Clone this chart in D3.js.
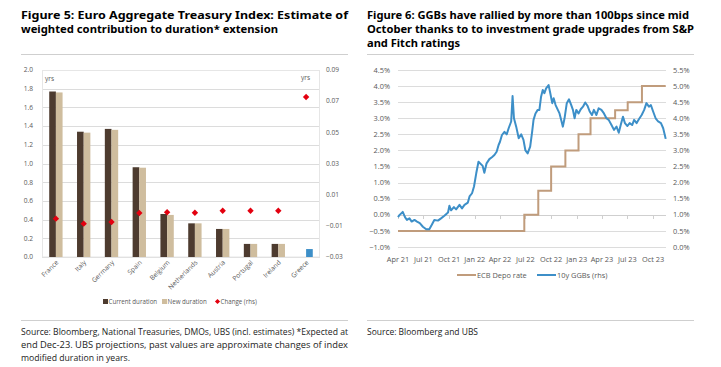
<!DOCTYPE html>
<html lang="en">
<meta charset="utf-8" />
<style>
    body { margin: 0; background: #fff; }
    svg text { font-family: "Open Sans", "Noto Sans", sans-serif; }
    .title { font-family: "Noto Sans", sans-serif; font-weight: bold; font-size: 11px; fill: #000; }
    .source { font-size: 8.6px; fill: #222; }
    .tick { font-size: 6.6px; fill: #595959; }
    .leg { font-size: 6.2px; fill: #595959; }
    .tick2 { font-size: 7.4px; fill: #595959; }
    .grid { stroke: #dcdcdc; stroke-width: 1; shape-rendering: crispEdges; }
    .rule { stroke: #cfcfcf; stroke-width: 1; shape-rendering: crispEdges; }
</style>
<svg width="721" height="367"></svg>
<script src="https://d3js.org/d3.v7.min.js"></script>
<script>
    // ---- Figure 5 data ----
    var countries = ["France", "Italy", "Germany", "Spain", "Belgium", "Netherlands", "Austria", "Portugal", "Ireland", "Greece"]
    var currentDuration = [1.77, 1.34, 1.37, 0.96, 0.46, 0.36, 0.30, 0.14, 0.14, 0]
    var newDuration = [1.76, 1.33, 1.36, 0.955, 0.45, 0.36, 0.30, 0.14, 0.14, 0.085]
    var changeRhs = [-0.0054, -0.0086, -0.0075, -0.0018, -0.0013, -0.0016, -0.0003, -0.0003, -0.0003, 0.0727]
    var durTicks = [0, 0.2, 0.4, 0.6, 0.8, 1.0, 1.2, 1.4, 1.6, 1.8, 2.0]
    var chgTicks = [-0.03, -0.01, 0.01, 0.03, 0.05, 0.07, 0.09]

    // ---- Figure 6 data ----
    var quarterTicks = ["2021-04-01", "2021-07-01", "2021-10-01", "2022-01-01", "2022-04-01", "2022-07-01",
        "2022-10-01", "2023-01-01", "2023-04-01", "2023-07-01", "2023-10-01"]
    var depoDates = ["2021-04-01", "2022-06-27", "2022-08-16", "2022-10-01", "2022-11-21", "2023-01-07",
        "2023-02-19", "2023-05-18", "2023-07-02", "2023-08-22", "2023-11-15"]
    var depoRate = [-0.5, 0.0, 0.75, 1.5, 2.0, 2.5, 3.0, 3.25, 3.5, 4.0, 4.0]
    var ggbDates = ["2021-04-01", "2021-04-06", "2021-04-18", "2021-04-26", "2021-05-03", "2021-05-12", "2021-05-20",
        "2021-05-30", "2021-06-08", "2021-06-18", "2021-06-29", "2021-07-11", "2021-07-22", "2021-07-31",
        "2021-08-09", "2021-08-22", "2021-09-02", "2021-09-14", "2021-09-27", "2021-10-02", "2021-10-08",
        "2021-10-18", "2021-10-26", "2021-11-07", "2021-11-16", "2021-11-25", "2021-12-07", "2021-12-13",
        "2021-12-22", "2021-12-29", "2022-01-06", "2022-01-14", "2022-01-29", "2022-02-04", "2022-02-12",
        "2022-02-22", "2022-03-03", "2022-03-12", "2022-03-20", "2022-03-27", "2022-04-01", "2022-04-08",
        "2022-04-17", "2022-04-25", "2022-05-02", "2022-05-11", "2022-05-16", "2022-05-21", "2022-05-29",
        "2022-06-07", "2022-06-16", "2022-06-24", "2022-07-01", "2022-07-09", "2022-07-18", "2022-07-25",
        "2022-07-30", "2022-08-06", "2022-08-14", "2022-08-20", "2022-08-26", "2022-09-01", "2022-09-07",
        "2022-09-13", "2022-09-22", "2022-09-28", "2022-10-05", "2022-10-10", "2022-10-17", "2022-10-25",
        "2022-10-31", "2022-11-06", "2022-11-12", "2022-11-18", "2022-11-26", "2022-12-04", "2022-12-12",
        "2022-12-18", "2022-12-24", "2022-12-30", "2023-01-07", "2023-01-15", "2023-01-23", "2023-01-31",
        "2023-02-08", "2023-02-16", "2023-02-24", "2023-03-03", "2023-03-12", "2023-03-20", "2023-03-30",
        "2023-04-08", "2023-04-17", "2023-04-25", "2023-05-05", "2023-05-14", "2023-05-23", "2023-05-31",
        "2023-06-07", "2023-06-15", "2023-06-22", "2023-07-01", "2023-07-09", "2023-07-18", "2023-07-25",
        "2023-08-03", "2023-08-11", "2023-08-21", "2023-08-30", "2023-09-07", "2023-09-16", "2023-09-23",
        "2023-10-01", "2023-10-10", "2023-10-19", "2023-10-29", "2023-11-06", "2023-11-15"]
    var ggbYield = [0.93, 0.99, 1.09, 0.93, 0.84, 0.89, 0.79,
        0.84, 0.79, 0.74, 0.63, 0.55, 0.55, 0.69,
        0.84, 0.82, 0.89, 0.97, 1.07, 1.28, 1.14,
        1.24, 1.17, 1.31, 1.20, 1.31, 1.38, 1.57,
        1.67, 1.88, 2.29, 2.65, 2.52, 2.31, 2.60,
        2.73, 2.79, 2.86, 2.96, 3.17, 3.27, 3.48,
        3.58, 3.50, 3.69, 3.90, 4.69, 4.00, 3.74,
        3.38, 3.50, 3.33, 3.00, 2.91, 3.12, 3.58,
        3.95, 4.15, 4.26, 4.26, 4.67, 4.88, 4.78,
        4.93, 5.03, 4.78, 4.47, 4.62, 4.41, 4.26,
        4.15, 3.95, 3.74, 4.00, 4.47, 4.59, 4.41,
        4.26, 4.00, 4.26, 4.15, 4.28, 4.36, 4.49,
        4.39, 4.21, 4.10, 4.26, 4.10, 4.31, 4.26,
        4.15, 4.00, 3.95, 3.79, 3.64, 3.74, 3.55,
        3.79, 4.05, 3.85, 3.76, 3.85, 3.79, 3.95,
        3.85, 3.97, 4.10, 4.26, 4.47, 4.36, 4.41,
        4.21, 4.00, 3.90, 3.85, 3.69, 3.36]
    var pctTicksL = [-1.0, -0.5, 0, 0.5, 1.0, 1.5, 2.0, 2.5, 3.0, 3.5, 4.0, 4.5]
    var pctTicksR = [0, 0.5, 1.0, 1.5, 2.0, 2.5, 3.0, 3.5, 4.0, 4.5, 5.0, 5.5]

    var svg = d3.select("svg")
    var parse = d3.timeParse("%Y-%m-%d")

    // titles, rules, sources
    function textLine(x, y, str, cls, len) {
        var t = svg.append("text").attr("class", cls).attr("x", x).attr("y", y).text(str)
        if (len) t.attr("textLength", len).attr("lengthAdjust", "spacingAndGlyphs")
        return t
    }
    textLine(21, 19, "Figure 5: Euro Aggregate Treasury Index: Estimate of", "title", 327)
    textLine(21, 33, "weighted contribution to duration* extension", "title", 257)
    textLine(367, 19, "Figure 6: GGBs have rallied by more than 100bps since mid", "title", 322)
    textLine(367, 33, "October thanks to to investment grade upgrades from S&P", "title", 327)
    textLine(367, 47, "and Fitch ratings", "title", 93)

    svg.append("line").attr("class", "rule").attr("x1", 21).attr("x2", 348).attr("y1", 54.5).attr("y2", 54.5)
    svg.append("line").attr("class", "rule").attr("x1", 367).attr("x2", 694).attr("y1", 54.5).attr("y2", 54.5)
    svg.append("line").attr("class", "rule").attr("x1", 21).attr("x2", 348).attr("y1", 320.5).attr("y2", 320.5)
    svg.append("line").attr("class", "rule").attr("x1", 367).attr("x2", 694).attr("y1", 320.5).attr("y2", 320.5)

    textLine(21, 335, "Source: Bloomberg, National Treasuries, DMOs, UBS (incl. estimates) *Expected at", "source", 327)
    textLine(21, 348, "end Dec-23. UBS projections, past values are approximate changes of index", "source", 327)
    textLine(21, 361, "modified duration in years.", "source", 109)
    textLine(367, 335, "Source: Bloomberg and UBS", "source", 111)

    //////////////////////// Figure 5 ////////////////////////
    var x0 = d3.scaleBand().domain(countries).range([42, 320])
    var yDur = d3.scaleLinear().domain([0, 2]).range([257, 70])
    var yChg = d3.scaleLinear().domain([-0.03, 0.09]).range([257, 70])
    var bw = x0.bandwidth() * 0.24

    var g5 = svg.append("g")
    g5.selectAll("line.g").data(durTicks).enter().append("line").attr("class", "grid")
        .attr("x1", 42).attr("x2", 320).attr("y1", d => Math.round(yDur(d)) + 0.5).attr("y2", d => Math.round(yDur(d)) + 0.5)
    g5.append("rect").attr("x", 42.5).attr("y", 70.5).attr("width", 277).attr("height", 186.5)
        .attr("fill", "none").attr("stroke", "#e6e6e6")

    g5.selectAll("text.l").data(durTicks).enter().append("text").attr("class", "tick")
        .attr("x", 33).attr("y", d => yDur(d) + 2.3).attr("text-anchor", "end").text(d => d3.format(".1f")(d))
    g5.selectAll("text.r").data(chgTicks).enter().append("text").attr("class", "tick")
        .attr("x", 326).attr("y", d => yChg(d) + 2.3).text(d => d3.format(".2f")(d))
    g5.append("text").attr("class", "tick").attr("x", 45).attr("y", 81).text("yrs")
    g5.append("text").attr("class", "tick").attr("x", 301).attr("y", 80).text("yrs")

    countries.forEach(function(c, i) {
        var cx = x0(c) + x0.bandwidth() / 2
        if (currentDuration[i] > 0)
            g5.append("rect").attr("x", cx - bw).attr("width", bw).attr("y", yDur(currentDuration[i]))
            .attr("height", yDur(0) - yDur(currentDuration[i])).attr("fill", "#4d3b2f")
        g5.append("rect").attr("x", cx).attr("width", bw).attr("y", yDur(newDuration[i]))
            .attr("height", yDur(0) - yDur(newDuration[i])).attr("fill", c == "Greece" ? "#3d8fc8" : "#cfbd9e")
        g5.append("path").attr("d", "M0,-3.2L3.2,0L0,3.2L-3.2,0Z")
            .attr("transform", "translate(" + cx + "," + yChg(changeRhs[i]) + ")").attr("fill", "#e3000f")
        g5.append("text").attr("class", "tick").attr("text-anchor", "end")
            .attr("transform", "translate(" + (cx + 3) + ",263) rotate(-45)").text(c)
    })

    // legend
    var leg5 = [
        ["rect", "#4d3b2f", "Current duration", 103],
        ["rect", "#cfbd9e", "New duration", 162],
        ["diamond", "#e3000f", "Change (rhs)", 215]
    ]
    leg5.forEach(function(l) {
        if (l[0] == "rect") g5.append("rect").attr("x", l[3]).attr("y", 299).attr("width", 5).attr("height", 5).attr("fill", l[1])
        else g5.append("path").attr("d", "M0,-2.6L2.6,0L0,2.6L-2.6,0Z").attr("transform", "translate(" + (l[3] + 2.5) + ",301.5)").attr("fill", l[1])
        g5.append("text").attr("class", "leg").attr("x", l[3] + 5.5).attr("y", 304).text(l[2])
    })

    //////////////////////// Figure 6 ////////////////////////
    var xT = d3.scaleTime().domain([parse("2021-04-01"), parse("2023-11-15")]).range([398, 665.7])
    var yL = d3.scaleLinear().domain([-1, 4.5]).range([247, 70])
    var yR = d3.scaleLinear().domain([0, 5.5]).range([247, 70])

    var g6 = svg.append("g")
    g6.selectAll("line.g").data(pctTicksL).enter().append("line").attr("class", "grid")
        .attr("x1", 398).attr("x2", 666).attr("y1", d => Math.round(yL(d)) + 0.5).attr("y2", d => Math.round(yL(d)) + 0.5)
    g6.selectAll("text.l").data(pctTicksL).enter().append("text").attr("class", "tick2")
        .attr("x", 390).attr("y", d => yL(d) + 2.6).attr("text-anchor", "end").text(d => d3.format(".1f")(d) + "%")
    g6.selectAll("text.r").data(pctTicksR).enter().append("text").attr("class", "tick2")
        .attr("x", 673).attr("y", d => yR(d) + 2.6).text(d => d3.format(".1f")(d) + "%")

    var qt = quarterTicks.map(parse)
    g6.append("line").attr("x1", 398).attr("x2", 666).attr("y1", Math.round(yL(0)) + 0.5).attr("y2", Math.round(yL(0)) + 0.5)
        .attr("stroke", "#cfcfcf").style("shape-rendering", "crispEdges")
    g6.selectAll("line.t").data(qt).enter().append("line")
        .attr("x1", d => Math.round(xT(d)) + 0.5).attr("x2", d => Math.round(xT(d)) + 0.5)
        .attr("y1", Math.round(yL(0)) + 0.5).attr("y2", Math.round(yL(0)) + 3.5)
        .attr("stroke", "#cfcfcf").style("shape-rendering", "crispEdges")
    g6.selectAll("text.x").data(qt).enter().append("text").attr("class", "tick2")
        .attr("x", d => xT(d)).attr("y", 261.5).attr("text-anchor", "middle").text(d3.timeFormat("%b %y"))

    var depo = depoDates.map((d, i) => [parse(d), depoRate[i]])
    var ggb = ggbDates.map((d, i) => [parse(d), ggbYield[i]])

    g6.append("path").datum(depo)
        .attr("d", d3.line().x(d => xT(d[0])).y(d => yL(d[1])).curve(d3.curveStepAfter))
        .attr("fill", "none").attr("stroke", "#c09c7c").attr("stroke-width", 2)
    g6.append("path").datum(ggb)
        .attr("d", d3.line().x(d => xT(d[0])).y(d => yR(d[1])))
        .attr("fill", "none").attr("stroke", "#3d8fc8").attr("stroke-width", 2).attr("stroke-linejoin", "round")

    var leg6 = [["#c09c7c", "ECB Depo rate", 457], ["#3d8fc8", "10y GGBs (rhs)", 537]]
    leg6.forEach(function(l) {
        g6.append("line").attr("x1", l[2]).attr("x2", l[2] + 19).attr("y1", 275).attr("y2", 275)
            .attr("stroke", l[0]).attr("stroke-width", 2)
        g6.append("text").attr("class", "tick2").attr("x", l[2] + 20).attr("y", 277.6).text(l[1])
    })
</script>

</html>
